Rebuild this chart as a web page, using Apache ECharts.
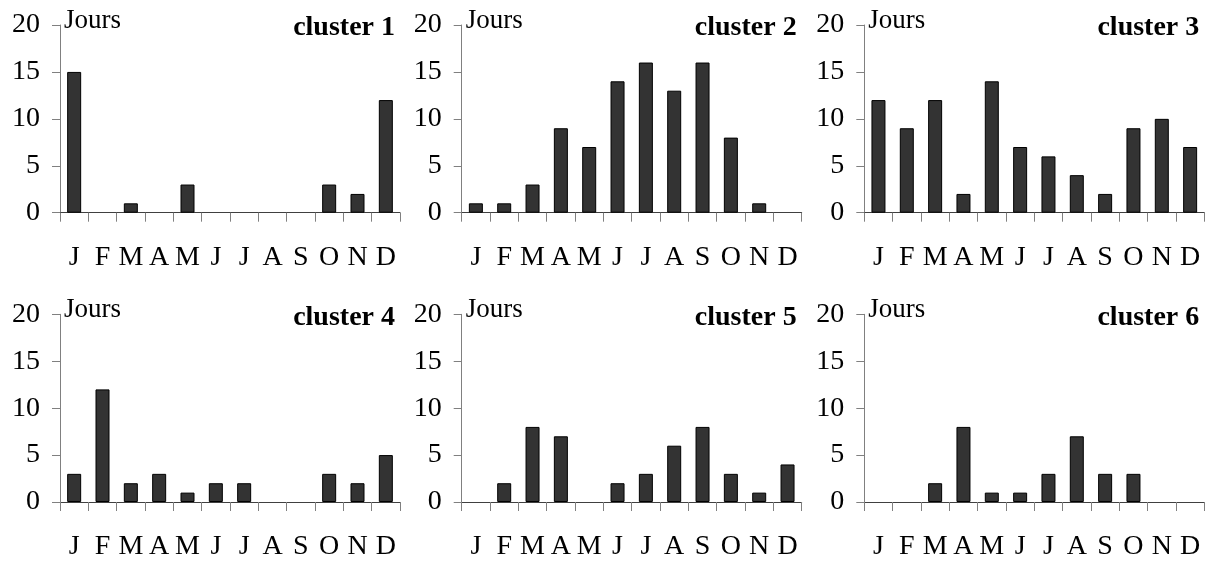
<!DOCTYPE html>
<html>
<head>
<meta charset="utf-8">
<script src="https://cdn.jsdelivr.net/npm/echarts@6/dist/echarts.min.js"></script>
<style>
html,body{margin:0;padding:0;background:#fff;}
#chart{width:1215px;height:563px;}
</style>
</head>
<body>
<div id="chart"></div>
<script>
const months = ['J','F','M','A','M','J','J','A','S','O','N','D'];
const clusterNames = ['cluster 1','cluster 2','cluster 3','cluster 4','cluster 5','cluster 6'];
const yTicks = [0, 5, 10, 15, 20];
const yName = 'Jours';
const cluster1 = [15, 0, 1, 0, 3, 0, 0, 0, 0, 3, 2, 12];
const cluster2 = [1, 1, 3, 9, 7, 14, 16, 13, 16, 8, 1, 0];
const cluster3 = [12, 9, 12, 2, 14, 7, 6, 4, 2, 9, 10, 7];
const cluster4 = [3, 12, 2, 3, 1, 2, 2, 0, 0, 3, 2, 5];
const cluster5 = [0, 2, 8, 7, 0, 2, 3, 6, 8, 3, 1, 4];
const cluster6 = [0, 0, 2, 8, 1, 1, 3, 7, 3, 3, 0, 0];
const allData = [cluster1, cluster2, cluster3, cluster4, cluster5, cluster6];

const FONT = '"Liberation Serif", "Times New Roman", serif';
const lefts = [60, 461.7, 864.3];
const tops = [25, 314.3];
const W = 340, H = 187.7;

const grid = [], xAxis = [], yAxis = [], series = [], title = [];
for (let i = 0; i < 6; i++) {
  const col = i % 3, row = Math.floor(i / 3);
  const left = lefts[col], top = tops[row];
  grid.push({left: left, top: top, width: W, height: H, containLabel: false});
  xAxis.push({
    type: 'category', gridIndex: i, data: months, boundaryGap: true,
    axisLine: {show: true, lineStyle: {color: '#404040', width: 1}},
    axisTick: {show: true, length: 9, alignWithLabel: false, lineStyle: {color: '#808080'}},
    axisLabel: {interval: 0, margin: 31, fontFamily: FONT, fontSize: 28, color: '#000'},
    splitLine: {show: false}
  });
  yAxis.push({
    type: 'value', gridIndex: i, min: yTicks[0], max: yTicks[yTicks.length - 1], interval: 5,
    name: yName, nameLocation: 'end', nameGap: 4,
    nameTextStyle: {fontFamily: FONT, fontSize: 27, color: '#000', align: 'left', verticalAlign: 'middle', padding: [0, 0, 0, 4]},
    axisLine: {show: true, lineStyle: {color: '#808080', width: 1}},
    axisTick: {show: true, length: 8, lineStyle: {color: '#808080'}},
    axisLabel: {margin: 20, fontFamily: FONT, fontSize: 28, color: '#000'},
    splitLine: {show: false}
  });
  series.push({
    type: 'bar', xAxisIndex: i, yAxisIndex: i,
    data: allData[i].map(v => v === 0 ? {value: v, itemStyle: {borderWidth: 0}} : v),
    barWidth: 14,
    itemStyle: {color: '#333333', borderColor: '#000000', borderWidth: 1},
    silent: true, animation: false
  });
  title.push({
    text: clusterNames[i], padding: 0,
    right: 1215 - (left + W - 5), top: top - 11,
    textStyle: {fontFamily: FONT, fontSize: 28, fontWeight: 'bold', color: '#000'}
  });
}

const chart = echarts.init(document.getElementById('chart'), null, {renderer: 'canvas'});
chart.setOption({
  backgroundColor: '#fff',
  animation: false,
  title: title,
  grid: grid,
  xAxis: xAxis,
  yAxis: yAxis,
  series: series
});
</script>
</body>
</html>
